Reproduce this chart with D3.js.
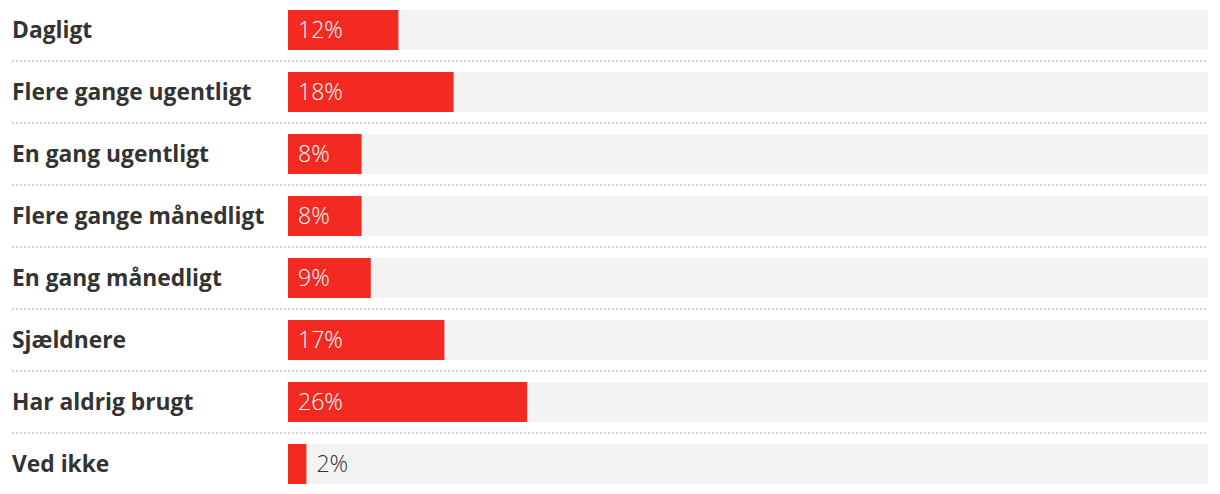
<!DOCTYPE html>
<html>
<head>
<meta charset="utf-8">
<script src="https://cdn.jsdelivr.net/npm/d3@7"></script>
<style>
html,body{margin:0;padding:0;background:#fff;}
svg{display:block;}
</style>
</head>
<body>
<svg id="chart" width="1220" height="494"></svg>
<script>
const categories = ["Dagligt","Flere gange ugentligt","En gang ugentligt","Flere gange månedligt","En gang månedligt","Sjældnere","Har aldrig brugt","Ved ikke"];
const values = [12,18,8,8,9,17,26,2];
const valueLabels = ["12%","18%","8%","8%","9%","17%","26%","2%"];

const svg = d3.select("#chart");
const x = d3.scaleLinear().domain([0,100]).range([288,1208]);
const step = 62, gap = 22;
const y = d3.scaleBand().domain(categories)
  .range([10, 10 + step*categories.length - gap])
  .paddingInner(gap/step).paddingOuter(0);
const bh = y.bandwidth();

const font = "'Open Sans', 'Noto Sans', sans-serif";

const rows = svg.selectAll("g.row").data(categories).join("g").attr("class","row");

rows.append("rect")
  .attr("x", x(0)).attr("y", d=>y(d))
  .attr("width", x(100)-x(0)).attr("height", bh)
  .attr("fill","#f3f3f3");

rows.append("rect")
  .attr("x", x(0)).attr("y", d=>y(d))
  .attr("width", (d,i)=>x(values[i])-x(0)).attr("height", bh)
  .attr("fill","#f22a21");

rows.append("text")
  .attr("x", 12).attr("y", d=>y(d)+bh/2)
  .attr("dy","0.36em")
  .attr("font-family", font).attr("font-weight", 700).attr("font-size", 22.8)
  .attr("fill","#333")
  .text(d=>d);

rows.append("text")
  .attr("x", (d,i)=> values[i] < 5 ? x(values[i]) + 10 : x(0) + 10)
  .attr("y", d=>y(d)+bh/2)
  .attr("dy","0.36em")
  .attr("font-family", font).attr("font-weight", 300).attr("font-size", 23)
  .attr("fill",(d,i)=> values[i] < 5 ? "#333" : "#fff")
  .text((d,i)=>valueLabels[i]);

svg.selectAll("line.sep").data(categories.slice(0,-1)).join("line")
  .attr("class","sep")
  .attr("x1",12).attr("x2",1208)
  .attr("y1",d=>y(d)+bh+11).attr("y2",d=>y(d)+bh+11)
  .attr("stroke","#d2d2d2").attr("stroke-width",2).attr("stroke-dasharray","2,2");
</script>
</body>
</html>
